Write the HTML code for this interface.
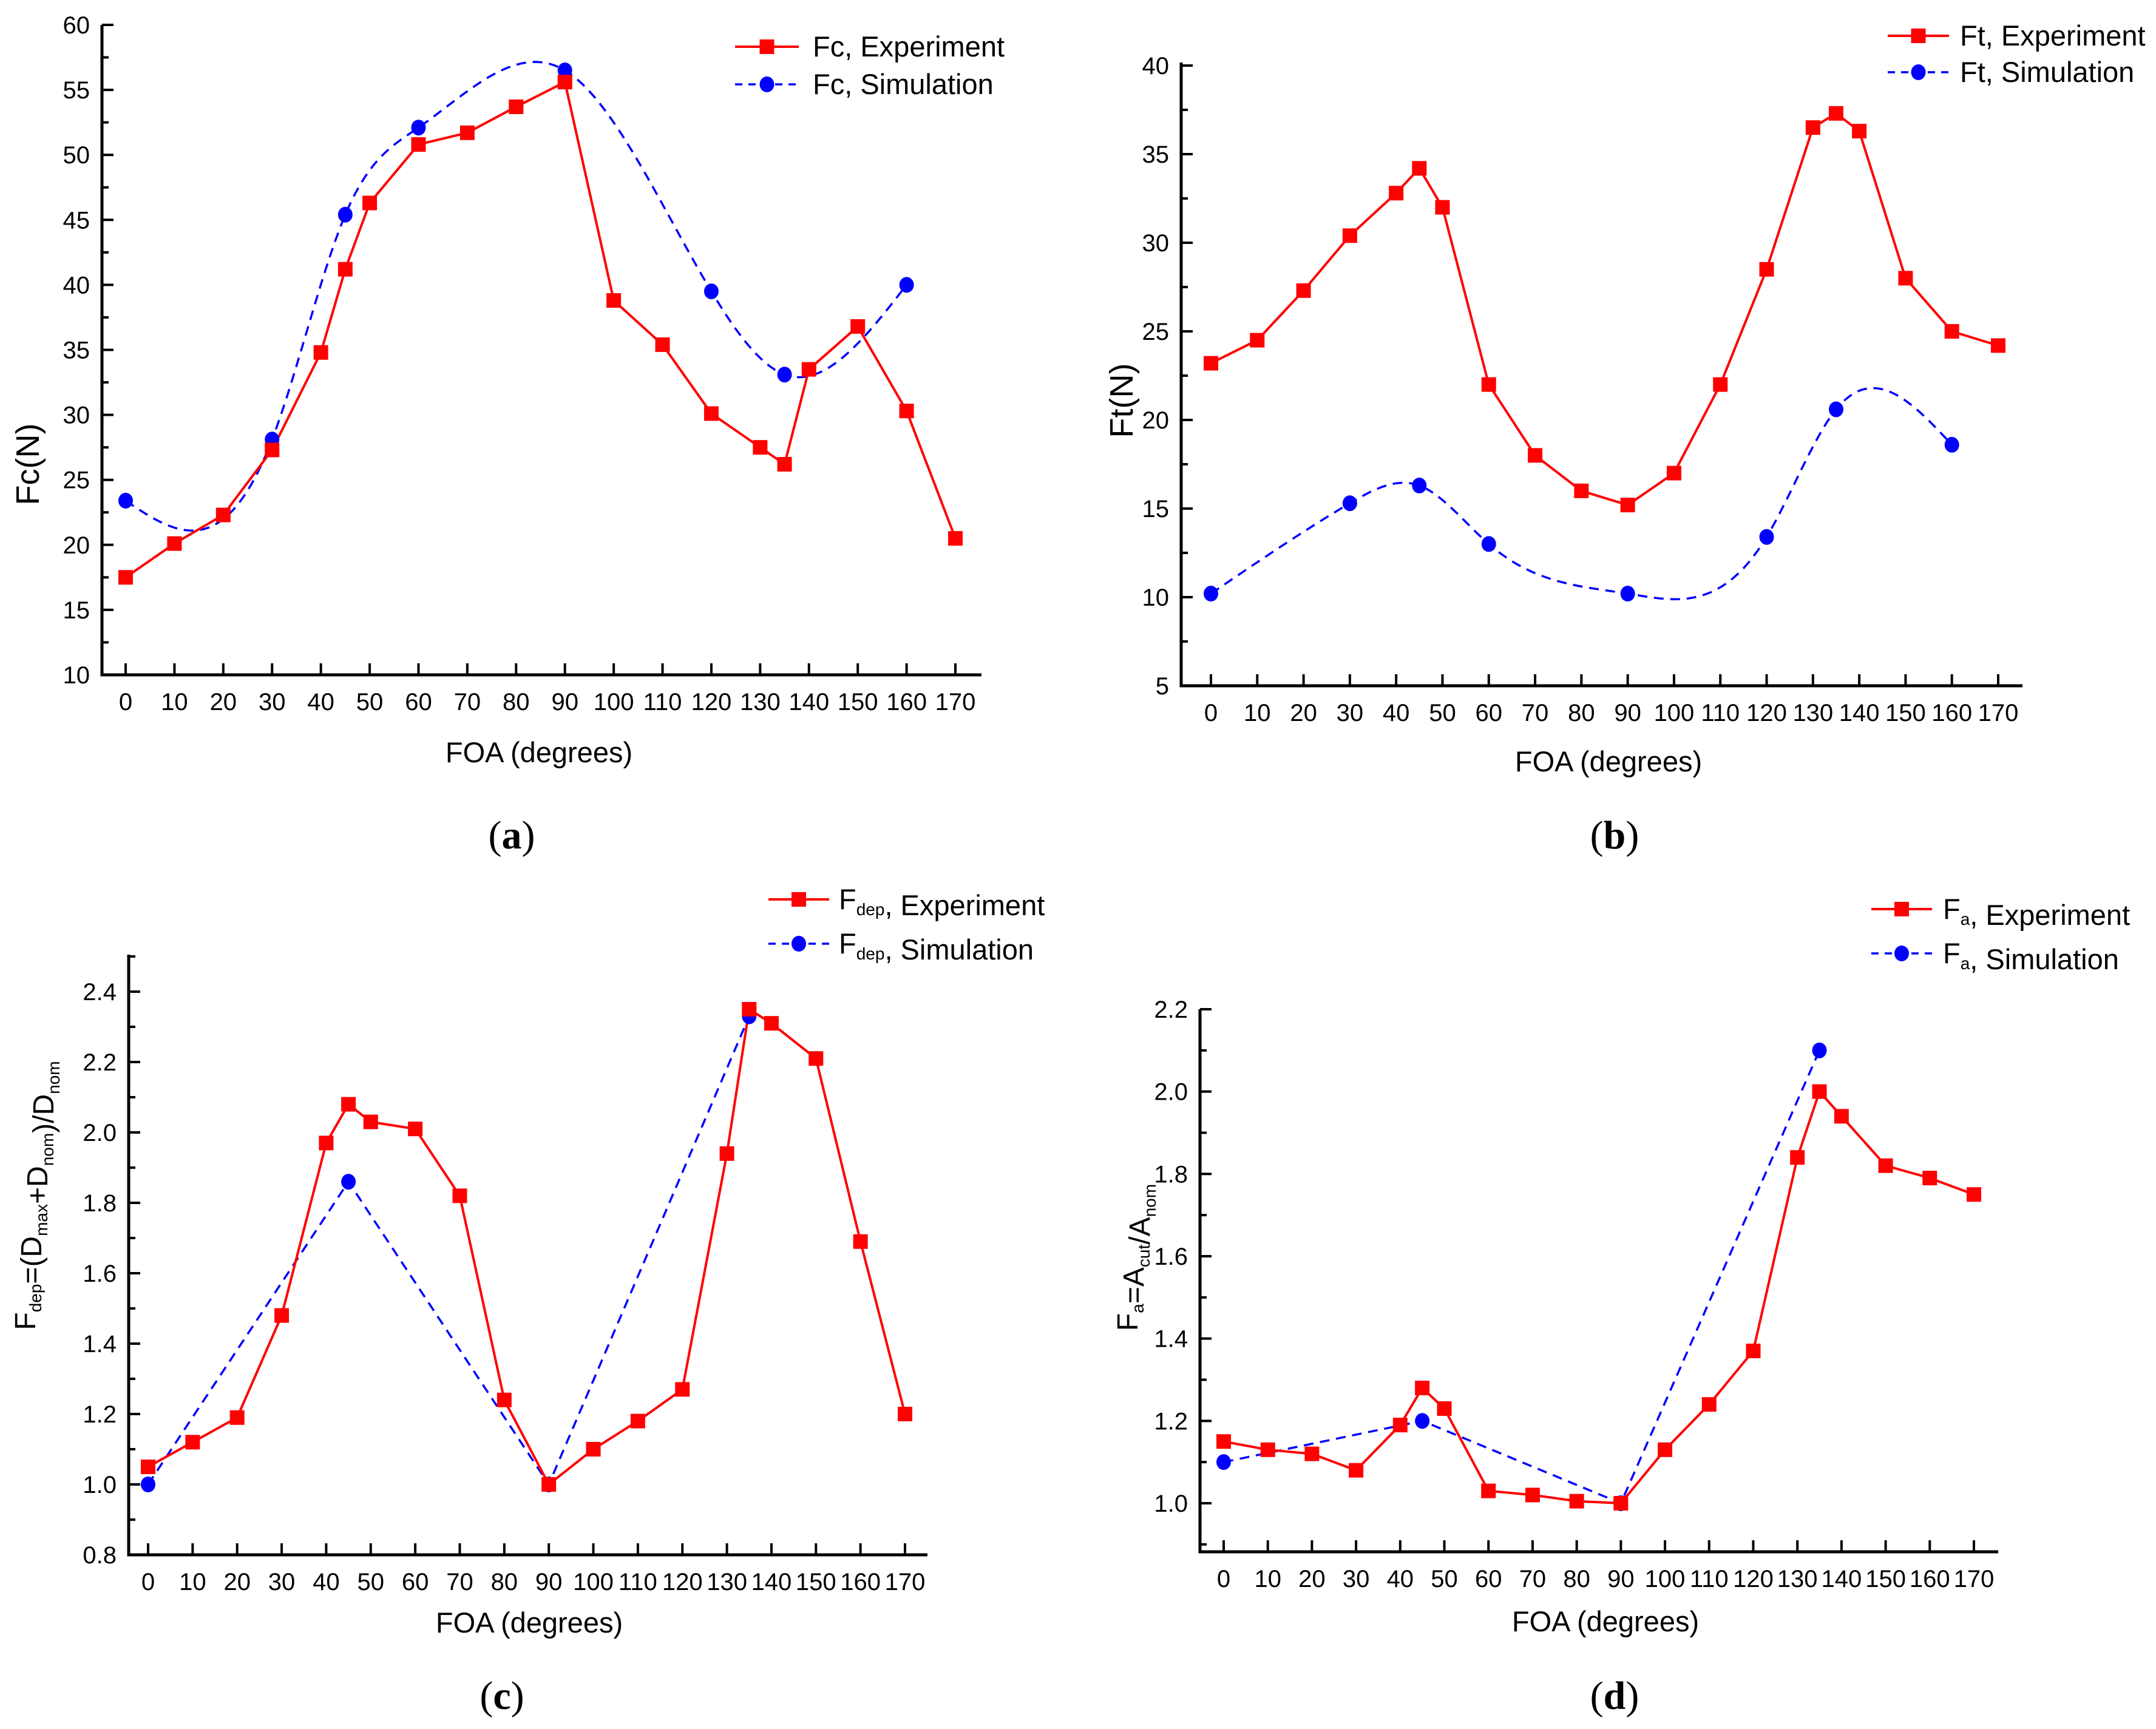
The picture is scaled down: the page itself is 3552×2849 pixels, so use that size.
<!DOCTYPE html>
<html><head><meta charset="utf-8"><style>
html,body{margin:0;padding:0;background:#fff;}
svg{display:block;font-family:"Liberation Sans",Arial,sans-serif;}
</style></head><body>
<svg id="fig" width="3552" height="2849" viewBox="0 0 3552 2849" xmlns="http://www.w3.org/2000/svg"></svg>
<script>
const xTicks = [0,10,20,30,40,50,60,70,80,90,100,110,120,130,140,150,160,170];
// Panel a
const aExpX = [0,10,20,30,40,45,50,60,70,80,90,100,110,120,130,135,140,150,160,170];
const aExpY = [17.5,20.1,22.3,27.3,34.8,41.2,46.3,50.8,51.7,53.7,55.6,38.8,35.4,30.1,27.5,26.2,33.5,36.8,30.3,20.5];
const aSimX = [0,30,45,60,90,120,135,160];
const aSimY = [23.4,28.1,45.4,52.1,56.5,39.5,33.1,40.0];
const aYTicks = [10,15,20,25,30,35,40,45,50,55,60];
// Panel b
const bExpX = [0,10,20,30,40,45,50,60,70,80,90,100,110,120,130,135,140,150,160,170];
const bExpY = [23.2,24.5,27.3,30.4,32.8,34.2,32.0,22.0,18.0,16.0,15.2,17.0,22.0,28.5,36.5,37.3,36.3,28.0,25.0,24.2];
const bSimX = [0,30,45,60,90,120,135,160];
const bSimY = [10.2,15.3,16.3,13.0,10.2,13.4,20.6,18.6];
const bYTicks = [5,10,15,20,25,30,35,40];
// Panel c
const cExpX = [0,10,20,30,40,45,50,60,70,80,90,100,110,120,130,135,140,150,160,170];
const cExpY = [1.05,1.12,1.19,1.48,1.97,2.08,2.03,2.01,1.82,1.24,1.00,1.10,1.18,1.27,1.94,2.35,2.31,2.21,1.69,1.20];
const cSimX = [0,45,90,135];
const cSimY = [1.00,1.86,1.00,2.33];
const cYTicks = ["0.8","1.0","1.2","1.4","1.6","1.8","2.0","2.2","2.4"];
// Panel d
const dExpX = [0,10,20,30,40,45,50,60,70,80,90,100,110,120,130,135,140,150,160,170];
const dExpY = [1.15,1.13,1.12,1.08,1.19,1.28,1.23,1.03,1.02,1.005,1.00,1.13,1.24,1.37,1.84,2.00,1.94,1.82,1.79,1.75];
const dSimX = [0,45,90,135];
const dSimY = [1.10,1.20,1.00,2.10];
const dYTicks = ["1.0","1.2","1.4","1.6","1.8","2.0","2.2"];

const NS="http://www.w3.org/2000/svg";
const svg=document.getElementById('fig');
function mk(tag,attrs,parent){const e=document.createElementNS(NS,tag);for(const k in attrs)e.setAttribute(k,attrs[k]);(parent||svg).appendChild(e);return e;}

function spline(xs,ys){
  const n=xs.length,h=[],al=[],l=[1],mu=[0],z=[0],c=new Array(n).fill(0),b=[],d=[];
  for(let i=0;i<n-1;i++)h.push(xs[i+1]-xs[i]);
  for(let i=1;i<n-1;i++)al[i]=3/h[i]*(ys[i+1]-ys[i])-3/h[i-1]*(ys[i]-ys[i-1]);
  for(let i=1;i<n-1;i++){l[i]=2*(xs[i+1]-xs[i-1])-h[i-1]*mu[i-1];mu[i]=h[i]/l[i];z[i]=(al[i]-h[i-1]*z[i-1])/l[i];}
  for(let j=n-2;j>=0;j--){if(j>0)c[j]=z[j]-mu[j]*c[j+1];b[j]=(ys[j+1]-ys[j])/h[j]-h[j]*(c[j+1]+2*c[j])/3;d[j]=(c[j+1]-c[j])/(3*h[j]);}
  return function(x){let i=0;while(i<n-2&&x>xs[i+1])i++;const t=x-xs[i];return ys[i]+b[i]*t+c[i]*t*t+d[i]*t*t*t;};
}

function panel(p){
  const g=mk('g',{});
  
  
  const X=v=>p.x0+(v-0)/(170)*(p.x170-p.x0);
  const Y=v=>p.yLo+(v-p.vLo)/(p.vHi-p.vLo)*(p.yHi-p.yLo);
  const ax=mk('path',{d:`M${p.axX},${p.axTop}V${p.axBot}H${p.axRight}`,fill:'none',stroke:'#000','stroke-width':5},g);
  
  
  xTicks.forEach(v=>{
    mk('line',{x1:X(v),x2:X(v),y1:p.axBot,y2:p.axBot-19,stroke:'#000','stroke-width':4},g);
    const t=mk('text',{x:X(v),y:p.axBot+58,'font-size':40,'text-anchor':'middle'},g);
    t.textContent=v;
    
    
  });
  const step=parseFloat(p.yt[1])-parseFloat(p.yt[0]);
  p.yt.forEach((s,i)=>{
    const v=parseFloat(s);
    mk('line',{x1:p.axX,x2:p.axX+19,y1:Y(v),y2:Y(v),stroke:'#000','stroke-width':4},g);
    const mv=v+step/2;
    if(Y(mv)>p.axTop-2 && i<p.yt.length-(p.minorTop?0:1)) mk('line',{x1:p.axX,x2:p.axX+11,y1:Y(mv),y2:Y(mv),stroke:'#000','stroke-width':4},g);
    const t=mk('text',{x:p.axX-20,y:Y(v)+14,'font-size':40,'text-anchor':'end'},g);
    t.textContent=s;
    
    
  });
  if(p.minorBelow) mk('line',{x1:p.axX,x2:p.axX+11,y1:Y(parseFloat(p.yt[0])-step/2),y2:Y(parseFloat(p.yt[0])-step/2),stroke:'#000','stroke-width':4},g);
  let sd;
  if(p.smooth){const f=spline(p.sx,p.sy);sd='';for(let x=p.sx[0];x<=p.sx[p.sx.length-1]+0.01;x+=1)sd+=(sd?'L':'M')+X(x).toFixed(1)+','+Y(f(x)).toFixed(1);}
  else sd=p.sx.map((x,i)=>(i?'L':'M')+X(x)+','+Y(p.sy[i])).join('');
  const sl=mk('path',{d:sd,fill:'none',stroke:'#0000ff','stroke-width':3.5,'stroke-dasharray':'16 11'},g);
  
  
  const el=mk('path',{d:p.ex.map((x,i)=>(i?'L':'M')+X(x)+','+Y(p.ey[i])).join(''),fill:'none',stroke:'#ff0000','stroke-width':4},g);
  
  
  p.sx.forEach((x,i)=>{const c=mk('ellipse',{cx:X(x),cy:Y(p.sy[i]),rx:12,ry:13,fill:'#0000ff'},g);
    
    });
  p.ex.forEach((x,i)=>{const r=mk('rect',{x:X(x)-12,y:Y(p.ey[i])-12,width:24,height:24,fill:'#ff0000'},g);
    
    });
  const L=p.leg;
  const lg=mk('g',{},g);
  
  
  mk('line',{x1:L.x1,x2:L.x2,y1:L.y1,y2:L.y1,stroke:'#ff0000','stroke-width':4},lg);
  mk('rect',{x:(L.x1+L.x2)/2-12,y:L.y1-12,width:24,height:24,fill:'#ff0000'},lg);
  mk('line',{x1:L.x1,x2:L.x2,y1:L.y2,y2:L.y2,stroke:'#0000ff','stroke-width':3.5,'stroke-dasharray':'12 10'},lg);
  mk('ellipse',{cx:(L.x1+L.x2)/2,cy:L.y2,rx:12,ry:13,fill:'#0000ff'},lg);
  const t1=mk('text',{x:L.tx,y:L.y1+16,'font-size':47},lg);t1.innerHTML=L.s1;
  const t2=mk('text',{x:L.tx,y:L.y2+16,'font-size':47},lg);t2.innerHTML=L.s2;
  const xt=mk('text',{x:p.xlx,y:p.xly,'font-size':47,'text-anchor':'middle'},g);xt.textContent='FOA (degrees)';
  
  
  const yt=mk('text',{transform:`translate(${p.ylx},${p.yly}) rotate(-90)`,'font-size':p.ylfs||48,'text-anchor':'middle'},g);yt.innerHTML=p.ylab;
  
  
  const pl=mk('text',{x:p.plx,y:p.ply,'font-size':66,'text-anchor':'middle','font-family':'"Liberation Serif",serif'},g);
  pl.innerHTML='(<tspan font-weight="bold">'+p.id+'</tspan>)';
  
  
}
const sub=(s)=>`<tspan font-size="28" dy="10">${s}</tspan><tspan dy="-10"></tspan>`;
panel({id:'a',x0:207,x170:1574,vLo:10,vHi:60,yLo:1112,yHi:41,axX:168,axTop:41,axBot:1112,axRight:1617,
  yt:aYTicks.map(String),ex:aExpX,ey:aExpY,sx:aSimX,sy:aSimY,smooth:true,
  leg:{x1:1211,x2:1316,y1:77,y2:139,tx:1339,s1:'Fc, Experiment',s2:'Fc, Simulation'},
  xlx:888,xly:1256,ylx:64,yly:765,ylab:'Fc(N)',ylfs:54,plx:843,ply:1398});
panel({id:'b',x0:1995,x170:3292,vLo:5,vHi:40,yLo:1130,yHi:108,axX:1946,axTop:103,axBot:1130,axRight:3332,
  yt:bYTicks.map(String),ex:bExpX,ey:bExpY,sx:bSimX,sy:bSimY,smooth:true,
  leg:{x1:3110,x2:3211,y1:59,y2:119,tx:3229,s1:'Ft, Experiment',s2:'Ft, Simulation'},
  xlx:2650,xly:1271,ylx:1866,yly:660,ylab:'Ft(N)',ylfs:54,plx:2660,ply:1398});
panel({id:'c',x0:244,x170:1491,vLo:0.8,vHi:2.4,yLo:2562,yHi:1634,axX:212,axTop:1573,axBot:2562,axRight:1528,
  yt:cYTicks,ex:cExpX,ey:cExpY,sx:cSimX,sy:cSimY,smooth:false,minorTop:true,
  leg:{x1:1266,x2:1366,y1:1482,y2:1555,tx:1382,s1:'F'+sub('dep')+', Experiment',s2:'F'+sub('dep')+', Simulation'},
  xlx:872,xly:2690,ylx:58,yly:1970,ylab:'F'+sub('dep')+'=(D'+sub('max')+'+D'+sub('nom')+')/D'+sub('nom'),plx:827,ply:2816});
panel({id:'d',x0:2016,x170:3252,vLo:1.0,vHi:2.2,yLo:2477,yHi:1663,axX:1977,axTop:1663,axBot:2557,axRight:3292,
  yt:dYTicks,ex:dExpX,ey:dExpY,sx:dSimX,sy:dSimY,smooth:false,minorBelow:true,
  leg:{x1:3083,x2:3183,y1:1498,y2:1571,tx:3201,s1:'F'+sub('a')+', Experiment',s2:'F'+sub('a')+', Simulation'},
  xlx:2645,xly:2688,ylx:1874,yly:2072,ylab:'F'+sub('a')+'=A'+sub('cut')+'/A'+sub('nom'),plx:2660,ply:2816});
</script>
</body></html>
